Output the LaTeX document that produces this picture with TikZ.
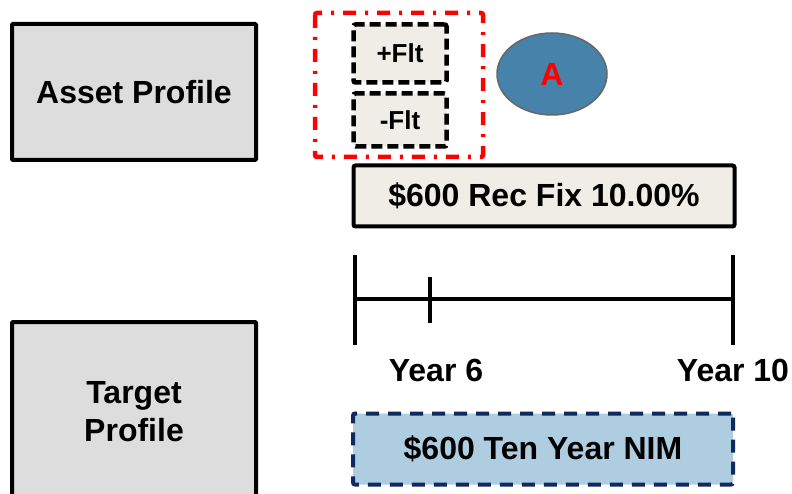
\documentclass[tikz,border=0pt]{standalone}
\usepackage{fontspec}
\setmainfont{Liberation Sans}
\usepackage{xcolor}
\usetikzlibrary{shapes,positioning,calc}

\definecolor{profgray}{HTML}{DDDDDD}
\definecolor{legcream}{HTML}{EFEDE5}
\definecolor{nimblue}{HTML}{AECDE0}
\definecolor{nimnavy}{HTML}{0F2A5E}
\definecolor{steel}{HTML}{4682A9}

\tikzset{
    profile/.style={draw, line width=4pt, fill=profgray, rounded corners=1pt, align=center, font=\fontsize{32}{38}\selectfont\bfseries},
    flt/.style={draw, line width=4.5pt, fill=legcream, dash pattern=on 11pt off 5pt, rounded corners=2pt, font=\fontsize{26}{30}\selectfont\bfseries},
    leg/.style={draw, line width=4pt, fill=legcream, rounded corners=2pt, font=\fontsize{32}{38}\selectfont\bfseries},
    nim/.style={draw=nimnavy, line width=4pt, fill=nimblue, dash pattern=on 13pt off 9pt, rounded corners=2pt, font=\fontsize{32}{38}\selectfont\bfseries},
    tick/.style={line width=4pt},
    yearlab/.style={font=\fontsize{32}{38}\selectfont\bfseries}
}

\begin{document}
\begin{tikzpicture}[x=1pt, y=-1pt]
    \useasboundingbox (0,0) rectangle (792,494);
    \clip (0,0) rectangle (792,494);

    % Profiles
    \node[profile, minimum width=244pt, minimum height=136pt] (asset) at (134,92) {Asset Profile};
    \node[profile, minimum width=244pt, minimum height=180pt] (target) at (134,412) {Target\\Profile};

    % Floating legs
    \draw[red, line width=4.5pt, dash pattern=on 13pt off 9pt on 3pt off 9pt, rounded corners=2pt] (315,13) rectangle (483,157);
    \node[flt, minimum width=93pt, minimum height=58pt] (pflt) at (400,53.5) {+Flt};
    \node[flt, minimum width=93pt, minimum height=53pt] (mflt) at (400,120) {-Flt};

    \node[ellipse, draw=gray!80!black, line width=1.5pt, fill=steel, minimum width=110pt, minimum height=82pt, text=red, font=\fontsize{32}{38}\selectfont\bfseries] (a) at (552,74) {A};

    % Fixed leg
    \node[leg, minimum width=381pt, minimum height=61pt] (recfix) at (544,196) {\$600 Rec Fix 10.00\%};

    % Timeline
    \coordinate (t0) at (355,299);
    \coordinate (t6) at (430,299);
    \coordinate (t10) at (733,299);
    \draw[tick] (t0) -- (t10);
    \draw[tick] ($(t0)+(0,-44)$) -- ($(t0)+(0,46)$);
    \draw[tick] ($(t6)+(0,-22)$) -- ($(t6)+(0,24)$);
    \draw[tick] ($(t10)+(0,-44)$) -- ($(t10)+(0,46)$);
    \node[yearlab] (y6) at (436,370) {Year 6};
    \node[yearlab] (y10) at (733,370) {Year 10};

    % Target NIM
    \node[nim, minimum width=380pt, minimum height=71pt] (nimbox) at (543,449) {\$600 Ten Year NIM};
\end{tikzpicture}
\end{document}
